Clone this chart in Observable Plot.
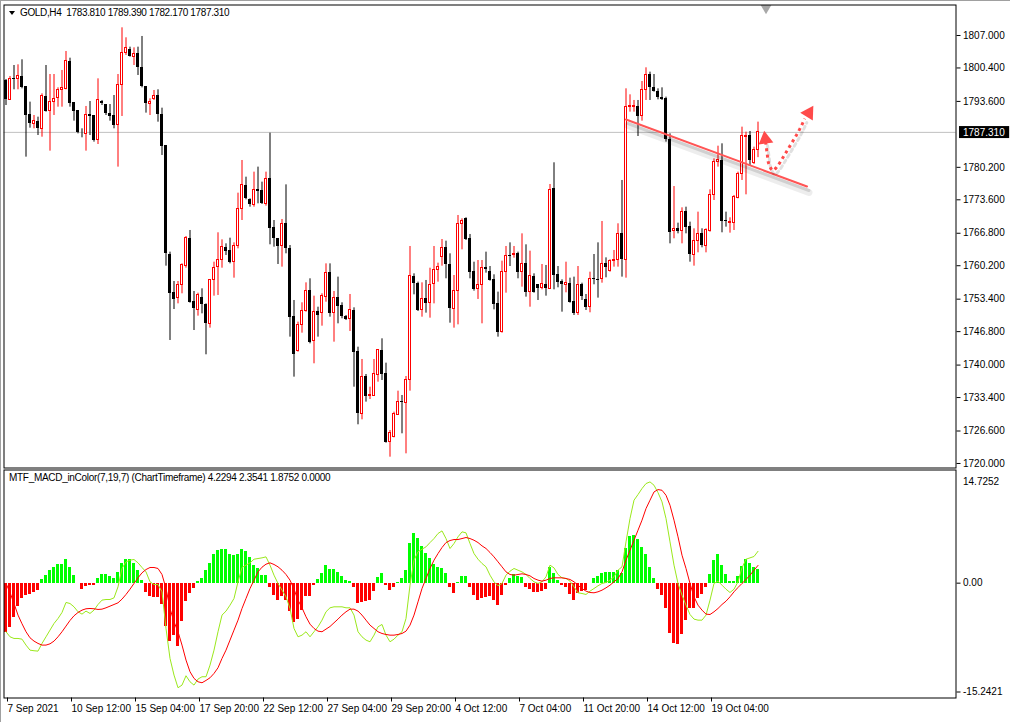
<!DOCTYPE html>
<html><head><meta charset="utf-8">
<script src="https://cdn.jsdelivr.net/npm/d3@7"></script>
<script src="https://cdn.jsdelivr.net/npm/@observablehq/plot@0.6"></script>
<style>
html,body{margin:0;padding:0;background:#fff;}
#wrap{position:relative;width:1010px;height:722px;overflow:hidden;background:#fff;font-family:"Liberation Sans",Arial,sans-serif;}
#wrap svg{position:absolute;left:0;overflow:visible;}
.lbl{position:absolute;font-size:10px;line-height:14px;color:#000;white-space:pre;}
.tri{position:absolute;left:9px;top:11px;width:0;height:0;border-left:3.5px solid transparent;border-right:3.5px solid transparent;border-top:4px solid #000;}
.edge{position:absolute;background:#a0a0a0;}
</style></head><body><div id="wrap"></div>
<script>
// ---------------- data ----------------
const symbolTitle = "GOLD,H4";
const open = [
1797.85,1793.92,1798.33,1798.12,1798.67,1796.63,1790.94,1789.04,1789.59,1788.03,
1794.60,1791.62,1793.58,1794.33,1795.82,1796.16,1801.72,1793.38,1791.75,1787.15,
1787.01,1790.87,1790.74,1785.79,1793.65,1792.97,1791.08,1790.74,1788.84,1796.97,
1803.48,1804.16,1802.73,1803.41,1800.43,1796.63,1793.11,1794.13,1794.80,1790.94,
1784.64,1762.48,1754.83,1753.61,1756.32,1760.11,1765.67,1752.93,1751.23,1753.81,
1752.32,1748.39,1757.33,1759.91,1761.40,1763.84,1763.30,1760.92,1764.18,1771.77,
1776.51,1773.66,1772.58,1775.69,1775.49,1772.78,1777.86,1767.90,1765.67,1764.31,
1768.72,1763.63,1749.88,1742.83,1748.25,1750.96,1755.16,1744.86,1750.89,1750.56,
1753.81,1758.76,1750.56,1753.67,1752.11,1749.88,1749.27,1751.10,1742.76,1730.09,
1737.68,1733.68,1733.68,1738.02,1742.97,1738.23,1724.33,1725.35,1729.89,1732.60,
1732.33,1737.01,1758.01,1756.52,1751.23,1753.47,1752.59,1756.52,1759.23,1761.94,
1763.84,1760.38,1751.44,1754.96,1768.72,1769.73,1765.67,1759.03,1755.50,1756.32,
1759.77,1759.03,1757.33,1752.45,1746.69,1758.89,1762.28,1762.28,1762.62,1758.89,
1760.58,1754.83,1758.01,1756.32,1755.71,1756.32,1755.50,1775.83,1758.35,1756.99,
1756.38,1756.52,1752.93,1750.56,1756.32,1753.27,1751.77,1757.54,1757.33,1757.54,
1760.58,1759.09,1761.19,1761.40,1766.68,1761.40,1792.43,1792.43,1792.64,1790.60,
1795.96,1799.07,1796.50,1795.62,1794.47,1794.26,1785.79,1767.23,1767.70,1767.23,
1771.22,1768.18,1762.48,1765.13,1766.68,1764.31,1767.23,1774.48,1781.25,1781.59,
1769.39,1768.85,1768.85,1774.00,1778.88,1786.33,1786.67,1781.05,1783.81];
const high = [
1798.06,1798.67,1800.90,1801.04,1802.06,1796.63,1793.45,1790.74,1790.40,1795.14,
1800.90,1799.07,1799.07,1796.36,1799.89,1803.75,1802.39,1793.38,1791.75,1788.03,
1792.57,1793.58,1790.74,1798.19,1793.79,1792.97,1792.97,1794.80,1799.07,1808.56,
1806.53,1804.63,1804.49,1804.63,1806.80,1796.63,1794.13,1795.82,1795.96,1792.23,
1784.64,1762.96,1756.99,1756.99,1760.58,1766.14,1767.36,1754.96,1754.62,1755.50,
1752.45,1757.33,1760.92,1766.89,1765.46,1764.65,1765.80,1764.85,1774.95,1781.59,
1778.20,1773.80,1779.22,1780.24,1777.19,1779.22,1787.15,1769.39,1765.67,1769.60,
1776.64,1764.31,1753.13,1748.73,1752.66,1756.72,1757.54,1754.01,1751.77,1754.49,
1760.58,1760.58,1754.96,1757.88,1752.66,1750.08,1754.35,1751.64,1743.64,1741.14,
1738.09,1735.51,1741.14,1742.97,1745.34,1740.39,1726.70,1730.43,1734.70,1733.82,
1737.68,1764.11,1758.55,1756.86,1756.72,1757.20,1759.70,1764.11,1760.72,1765.53,
1765.19,1762.62,1758.21,1770.41,1769.73,1769.94,1766.55,1760.92,1761.26,1761.26,
1762.96,1760.04,1758.35,1754.83,1761.13,1764.11,1764.85,1764.11,1762.96,1766.68,
1764.45,1763.16,1758.55,1756.38,1760.45,1760.25,1776.71,1781.12,1760.04,1757.33,
1760.92,1757.67,1757.88,1760.04,1756.65,1754.35,1758.89,1762.48,1764.85,1769.19,
1761.80,1761.40,1763.30,1768.72,1777.53,1796.16,1794.94,1793.79,1793.79,1797.65,
1800.43,1799.55,1799.07,1796.16,1796.36,1794.47,1787.01,1776.30,1768.85,1771.97,
1772.10,1769.06,1767.70,1771.09,1767.70,1767.70,1775.63,1781.93,1784.50,1784.98,
1771.09,1769.94,1774.48,1779.22,1788.37,1787.35,1787.49,1784.30,1789.39];
const low = [
1792.77,1793.79,1795.96,1795.96,1796.16,1782.27,1788.16,1788.03,1786.67,1786.33,
1791.42,1783.49,1790.74,1792.43,1792.43,1795.96,1792.43,1789.59,1787.01,1786.20,
1783.49,1786.67,1785.32,1784.84,1792.77,1790.74,1789.59,1788.03,1780.24,1790.54,
1802.94,1802.60,1800.90,1798.87,1796.36,1791.22,1790.74,1793.79,1789.38,1782.61,
1760.11,1745.00,1751.30,1752.45,1754.49,1759.70,1752.59,1747.03,1749.95,1750.42,
1742.09,1747.51,1754.01,1754.15,1759.70,1762.28,1760.58,1757.67,1763.63,1769.39,
1773.60,1772.10,1772.10,1772.78,1772.65,1772.31,1764.45,1763.97,1760.45,1759.91,
1762.62,1745.68,1737.55,1742.63,1746.49,1750.76,1744.32,1740.26,1745.68,1747.91,
1752.79,1749.74,1744.66,1748.39,1749.41,1749.06,1746.83,1735.51,1727.86,1728.87,
1732.47,1733.00,1733.61,1736.53,1736.87,1724.13,1721.28,1725.21,1729.75,1726.03,
1721.96,1734.70,1754.28,1750.89,1749.74,1750.56,1749.54,1752.45,1756.86,1760.11,
1757.54,1748.52,1747.51,1748.18,1763.43,1765.33,1757.54,1755.03,1753.34,1748.39,
1758.69,1757.06,1751.23,1745.68,1746.49,1754.62,1760.04,1761.74,1757.54,1755.84,
1753.81,1751.77,1754.62,1753.13,1755.30,1754.01,1755.37,1755.30,1755.71,1750.76,
1754.69,1752.59,1750.08,1750.08,1753.13,1751.10,1750.63,1756.32,1753.61,1756.65,
1757.74,1758.89,1759.91,1759.91,1757.88,1757.67,1791.42,1791.42,1786.47,1789.59,
1793.79,1793.79,1795.48,1793.92,1793.79,1785.32,1764.65,1765.67,1766.68,1764.65,
1766.68,1760.92,1760.11,1762.82,1763.84,1762.82,1767.02,1773.46,1780.24,1766.89,
1768.04,1766.82,1767.36,1773.80,1777.53,1774.61,1780.58,1780.78,1782.17];
const close = [
1793.92,1798.19,1798.06,1798.67,1796.50,1790.74,1789.04,1789.52,1788.03,1794.60,
1791.62,1793.58,1794.13,1795.82,1796.36,1801.72,1793.24,1791.62,1787.28,1787.01,
1790.87,1790.60,1785.66,1793.79,1793.11,1791.08,1790.54,1788.71,1796.97,1803.48,
1804.43,1802.73,1803.27,1800.43,1796.63,1793.11,1793.58,1794.80,1790.87,1784.50,
1762.62,1754.62,1753.27,1756.32,1760.25,1765.80,1752.79,1751.44,1754.15,1752.25,
1748.39,1757.33,1759.77,1761.40,1763.97,1763.16,1760.92,1764.18,1771.77,1776.51,
1773.93,1772.58,1775.63,1775.36,1772.78,1777.86,1767.83,1765.67,1764.18,1768.72,
1763.63,1749.74,1742.09,1748.25,1750.96,1755.16,1744.66,1750.89,1750.08,1754.01,
1758.76,1750.56,1753.67,1751.98,1749.95,1749.27,1751.10,1742.63,1730.09,1737.68,
1733.68,1733.95,1738.09,1742.97,1738.02,1724.33,1726.23,1729.96,1732.47,1732.33,
1736.87,1758.08,1756.65,1751.10,1753.47,1752.59,1756.38,1759.23,1760.04,1763.84,
1760.38,1751.44,1754.96,1768.72,1769.19,1765.53,1758.89,1755.37,1756.32,1759.77,
1759.43,1757.20,1752.32,1746.69,1758.89,1762.14,1762.08,1762.62,1758.89,1760.58,
1754.83,1758.01,1754.83,1755.64,1756.52,1755.50,1775.63,1758.21,1756.86,1756.38,
1756.72,1752.79,1750.56,1756.32,1754.01,1751.77,1757.54,1757.33,1757.20,1760.58,
1759.91,1761.26,1761.40,1766.68,1761.40,1792.43,1792.64,1792.64,1790.60,1795.96,
1799.07,1796.50,1795.62,1794.47,1793.99,1785.79,1767.02,1767.70,1767.23,1771.09,
1768.04,1762.42,1765.13,1766.68,1764.31,1767.36,1774.48,1781.25,1781.59,1769.26,
1769.26,1769.06,1774.14,1778.88,1786.47,1786.67,1781.59,1783.76,1787.31];

// MACD indicator (7,19,7): histogram, main line, signal line
const macdHist = [
-6.59,-5.88,-4.60,-3.05,-2.03,-1.68,-1.50,-1.24,-0.93,0.53,
1.06,1.72,2.08,2.43,2.52,3.14,2.08,1.06,-0.09,-0.80,
-0.49,-0.27,-0.35,0.62,1.15,1.15,0.93,0.62,1.41,2.61,
3.14,3.14,2.61,1.72,0.31,-1.24,-1.81,-1.95,-1.95,-2.83,
-5.70,-7.78,-6.90,-8.36,-5.04,-2.48,-1.37,-0.71,0.27,0.62,
1.72,2.61,3.80,4.38,4.47,4.47,3.80,3.63,3.80,4.47,
4.16,3.36,2.39,1.95,1.06,1.06,-0.57,-1.59,-2.34,-1.81,
-2.25,-3.80,-5.26,-4.77,-3.58,-1.81,-1.72,-0.35,0.49,1.28,
2.39,1.86,1.86,1.41,0.93,0.40,0.27,-0.62,-2.70,-2.61,
-2.39,-2.25,-1.06,0.75,1.28,-0.35,-0.93,-0.62,0.04,0.62,
1.72,5.26,6.59,5.92,4.91,3.93,3.27,2.52,2.03,1.95,
1.28,-0.62,-1.37,0.04,0.93,0.84,-0.62,-1.59,-2.25,-2.03,
-1.95,-1.81,-2.25,-2.92,-1.59,-0.35,0.62,1.15,0.84,0.75,
-0.57,-0.80,-1.24,-1.24,-1.06,-0.80,2.08,1.28,0.40,-0.27,
-0.62,-1.50,-2.25,-1.37,-1.06,-1.02,-0.04,0.62,0.93,1.28,
1.41,1.41,1.37,1.72,1.28,4.60,6.15,6.28,5.84,4.73,
3.80,2.08,0.62,-0.80,-1.59,-3.36,-6.68,-8.00,-8.13,-6.76,
-4.91,-3.36,-3.36,-2.03,-1.50,-0.57,1.15,3.05,3.80,2.39,
1.15,0.27,0.27,0.93,2.25,3.18,2.61,2.08,1.8752];
const macdMain = [
-6.45,-7.12,-7.34,-7.34,-7.43,-8.22,-8.89,-8.97,-9.02,-8.00,
-7.12,-6.23,-5.35,-4.69,-3.89,-2.56,-2.70,-3.14,-3.80,-4.11,
-3.71,-4.02,-3.58,-2.83,-2.25,-2.17,-2.17,-1.95,-0.49,1.95,
2.83,3.05,3.14,2.70,2.08,1.50,0.18,-0.18,-0.18,-1.15,
-6.01,-9.99,-12.20,-13.88,-13.53,-12.29,-13.09,-13.53,-12.73,-12.42,
-12.42,-10.88,-8.89,-6.45,-4.24,-3.71,-2.92,-2.03,0.18,2.08,
2.39,2.70,3.18,3.27,3.36,3.49,2.39,1.06,-0.04,-0.93,
-1.81,-3.36,-6.01,-7.12,-6.90,-6.45,-7.12,-6.45,-5.79,-4.91,
-3.80,-3.27,-3.14,-3.14,-3.14,-3.27,-3.27,-4.24,-6.45,-7.12,
-7.56,-7.78,-6.90,-5.79,-5.48,-6.90,-7.78,-7.43,-6.90,-6.45,
-4.69,-0.27,3.05,4.16,4.51,4.82,5.39,5.92,6.59,6.94,
5.92,4.60,5.26,6.15,6.81,6.68,5.26,3.93,3.18,2.61,
2.17,1.06,0.18,-0.35,-0.04,1.06,1.59,1.95,1.72,1.50,
1.15,0.62,0.18,-0.04,0.18,0.84,2.39,2.03,1.15,0.71,
0.62,0.27,-0.49,-1.28,-1.37,-1.50,-1.06,-0.71,-0.35,-0.04,
0.09,0.40,0.84,1.72,2.17,5.48,8.58,11.01,11.76,12.56,
13.22,13.44,13.00,12.02,10.79,8.58,5.48,2.39,-0.04,-1.59,
-2.92,-4.16,-4.77,-4.91,-4.91,-4.24,-2.25,-0.04,0.27,-0.27,
-0.80,-1.24,-0.80,0.18,2.03,3.18,3.36,3.54,4.2294];
const macdSignal = [
-0.04,-1.24,-2.70,-4.24,-5.39,-6.45,-7.25,-7.69,-8.00,-8.22,
-8.22,-8.05,-7.69,-7.12,-6.45,-5.70,-4.95,-4.33,-3.89,-3.58,
-3.40,-3.36,-3.40,-3.49,-3.45,-3.27,-3.05,-2.83,-2.61,-2.12,
-1.50,-0.80,-0.04,0.71,1.37,1.81,2.08,2.08,1.95,1.15,
-0.71,-3.36,-5.13,-6.45,-8.22,-10.21,-11.76,-12.64,-13.09,-13.22,
-12.91,-12.56,-11.98,-11.23,-9.99,-8.89,-7.56,-6.23,-4.91,-3.36,
-2.03,-0.71,0.40,1.50,2.12,2.52,2.70,2.48,2.17,1.72,
1.15,0.40,-0.80,-2.25,-3.27,-4.46,-5.44,-6.01,-6.37,-6.45,
-6.10,-5.75,-5.26,-4.77,-4.24,-3.80,-3.45,-3.45,-3.71,-4.24,
-4.91,-5.57,-6.01,-6.45,-6.68,-6.81,-6.90,-6.90,-6.81,-6.68,
-6.37,-5.57,-4.24,-2.48,-0.71,0.62,1.95,3.05,3.93,4.73,
5.39,5.66,5.79,5.79,5.92,6.06,5.92,5.70,5.39,4.95,
4.60,4.07,3.49,2.83,2.17,1.50,1.15,1.06,1.15,1.24,
1.15,0.97,0.62,0.40,0.27,0.40,0.62,0.71,0.71,0.71,
0.62,0.49,0.18,-0.27,-0.71,-1.06,-1.24,-1.28,-1.15,-0.93,
-0.62,-0.27,0.18,0.62,1.50,3.05,4.38,5.70,7.03,8.36,
9.90,11.01,12.11,12.42,12.33,11.67,10.34,8.36,6.15,3.71,
1.95,-0.04,-1.81,-2.92,-3.58,-4.11,-4.16,-3.80,-3.36,-2.83,
-2.39,-1.81,-1.15,-0.57,-0.04,0.49,1.06,1.72,2.3541];

const priceTicks = [1807.0,1800.4,1793.6,1780.2,1773.6,1766.8,1760.2,1753.4,1746.8,1740.0,1733.4,1726.6,1720.0];
const macdScaleMax = 14.7252, macdScaleMin = -15.2421;
const tickBars = [0,16,32,48,64,80,96,112,128,144,160,176];
const tickLabels = ["7 Sep 2021","10 Sep 12:00","15 Sep 04:00","17 Sep 20:00","22 Sep 12:00","27 Sep 04:00","29 Sep 20:00","4 Oct 12:00","7 Oct 04:00","11 Oct 20:00","14 Oct 12:00","19 Oct 04:00"];
const macdTitle = "MTF_MACD_inColor(7,19,7) (ChartTimeframe)";
const macdExtra = 0.0;
// annotations (bar index, price)
const trendLine = [{i:155, p:1789.93},{i:200.25, p:1776.31}];
const arrowPath = [
 {i:189.9,p:1785.4},{i:190.3,p:1782.95},{i:190.7,p:1780.92},{i:191.7,p:1779.56},{i:192.8,p:1780.37},
 {i:194.05,p:1781.94},{i:195.3,p:1783.62},{i:196.55,p:1785.31},{i:197.8,p:1787.02},{i:198.9,p:1788.71},{i:199.7,p:1790.1}];
const arrowHeads = [{i:189.85,p:1785.9,a:-8},{i:200.7,p:1791.25,a:32}];
const shiftBar = 190;

// ---------------- drawing ----------------
const N = close.length;
const last = close[N-1];
const fontFam = '"Liberation Sans", Arial, sans-serif';
const bars = d3.range(N).map(i => ({i, o: open[i], h: high[i], l: low[i], c: close[i]}));
const upBars = bars.filter(d => d.c >= d.o), dnBars = bars.filter(d => d.c < d.o);
const bodyBot = d => Math.min(d.o, d.c);
const bodyTop = d => Math.max(d.o, d.c, Math.min(d.o, d.c) + 0.15);
const xDom = [-0.5, 237.5];

const wrap = document.getElementById("wrap");

const main = Plot.plot({
  width: 1010, height: 470,
  marginLeft: 3.5, marginRight: 54.5, marginTop: 4.5, marginBottom: 2.5,
  x: {domain: xDom, axis: null},
  y: {domain: [1719.08, 1813.2], axis: null},
  style: {background: "transparent", fontFamily: fontFam, fontSize: "10px", color: "#000"},
  marks: [
    Plot.ruleY([last], {stroke: "#c0c0c0", strokeWidth: 1}),
    Plot.ruleX(dnBars, {x: "i", y1: "l", y2: "h", stroke: "#000"}),
    Plot.ruleX(upBars, {x: "i", y1: "l", y2: "h", stroke: "#ff0000"}),
    Plot.rect(dnBars, {x1: d => d.i - 0.375, x2: d => d.i + 0.375, y1: bodyBot, y2: bodyTop, fill: "#000", shapeRendering: "crispEdges"}),
    Plot.rect(upBars, {x1: d => d.i - 0.25, x2: d => d.i + 0.25, y1: bodyBot, y2: bodyTop, fill: "#fff", stroke: "#ff0000", strokeWidth: 1, shapeRendering: "crispEdges"}),
    // trend line with soft shadow
    Plot.line(trendLine, {x: "i", y: "p", stroke: "#000", strokeOpacity: 0.07, strokeWidth: 7, dx: 2, dy: 6}),
    Plot.line(trendLine, {x: "i", y: "p", stroke: "#000", strokeOpacity: 0.12, strokeWidth: 3, dx: 2, dy: 4}),
    Plot.line(trendLine, {x: "i", y: "p", stroke: "#ff5555", strokeWidth: 2}),
    // dotted arrow with shadow
    Plot.line(arrowPath, {x: "i", y: "p", curve: "catmull-rom", stroke: "#000", strokeOpacity: 0.12, strokeWidth: 3, strokeDasharray: "3,3.5", dx: 2, dy: 4}),
    Plot.line(arrowPath, {x: "i", y: "p", curve: "catmull-rom", stroke: "#ff4a4a", strokeWidth: 3, strokeDasharray: "3,3.5", strokeLinecap: "butt"}),
    Plot.dot(arrowHeads, {x: "i", y: "p", symbol: "triangle", r: 5.5, fill: "#ff4a4a", stroke: "none", rotate: "a"}),
    // chart shift marker
    Plot.dot([shiftBar], {x: d => d, frameAnchor: "top", dy: 3, symbol: "triangle", rotate: 180, r: 4, fill: "#a8a8a8", stroke: "none"}),
    Plot.axisY(priceTicks, {anchor: "right", label: null, tickSize: 4, tickPadding: 3, tickFormat: d => d.toFixed(3), fontSize: 10}),
    Plot.text([last], {y: d => d, frameAnchor: "right", dx: 7, textAnchor: "start", fill: "#fff", fontSize: 10, text: d => d.toFixed(3)}),
    Plot.frame({stroke: "#000"})
  ]
});
main.style.top = "0px";
wrap.appendChild(main);

// black box behind current price label
d3.select(main).selectAll("text").filter(function(){ return this.textContent === last.toFixed(3); })
  .each(function(){
    const bb = this.getBBox();
    const t = this.getAttribute("transform");
    const r = document.createElementNS("http://www.w3.org/2000/svg","rect");
    r.setAttribute("x", bb.x - 4); r.setAttribute("y", bb.y - 0.5);
    r.setAttribute("width", bb.width + 8); r.setAttribute("height", bb.height + 1);
    r.setAttribute("fill", "#000");
    if (t) r.setAttribute("transform", t);
    this.parentNode.insertBefore(r, this);
  });

const hd = d3.range(N).map(i => ({i, v: macdHist[i]}));
const ml = d3.range(N).map(i => ({i, v: macdMain[i]}));
const sl = d3.range(N).map(i => ({i, v: macdSignal[i]}));

const sub = Plot.plot({
  width: 1010, height: 256,
  marginLeft: 3.5, marginRight: 54.5, marginTop: 3.5, marginBottom: 24.5,
  x: {domain: xDom, label: null},
  y: {domain: [macdScaleMin, 15.02], axis: null, label: null},
  style: {background: "transparent", fontFamily: fontFam, fontSize: "10px", color: "#000"},
  marks: [
    Plot.rect(hd.filter(d => d.v >= 0), {x1: d => d.i - 0.375, x2: d => d.i + 0.375, y1: 0, y2: "v", fill: "#00ff00", shapeRendering: "crispEdges"}),
    Plot.rect(hd.filter(d => d.v < 0), {x1: d => d.i - 0.375, x2: d => d.i + 0.375, y1: 0, y2: "v", fill: "#ff0000", shapeRendering: "crispEdges"}),
    Plot.line(ml, {x: "i", y: "v", stroke: "#9be81c", strokeWidth: 1}),
    Plot.line(sl, {x: "i", y: "v", stroke: "#ff0000", strokeWidth: 1}),
    Plot.axisX(tickBars, {anchor: "bottom", label: null, tickSize: 4, tickPadding: 3, textAnchor: "start", dx: 1.5,
      tickFormat: d => tickLabels[tickBars.indexOf(d)], fontSize: 10}),
    Plot.axisY([0], {anchor: "right", label: null, tickSize: 4, tickPadding: 3, tickFormat: () => "0.00", fontSize: 10}),
    Plot.axisY([macdScaleMin], {anchor: "right", label: null, tickSize: 4, tickPadding: 3, dy: -6, tickFormat: d => d.toFixed(4), fontSize: 10}),
    Plot.text([macdScaleMax], {frameAnchor: "top-right", dx: 7, dy: 8, textAnchor: "start", text: d => d.toFixed(4), fontSize: 10}),
    Plot.frame({stroke: "#000"})
  ]
});
sub.style.top = "466px";
wrap.appendChild(sub);

// header labels
const tri = document.createElement("div"); tri.className = "tri"; wrap.appendChild(tri);
const h1 = document.createElement("div"); h1.className = "lbl";
h1.style.left = "20px"; h1.style.top = "6px"; h1.style.letterSpacing = "-0.35px";
h1.textContent = symbolTitle + "  " + [open[N-1], high[N-1], low[N-1], close[N-1]].map(v => v.toFixed(3)).join(" ");
wrap.appendChild(h1);
const h2 = document.createElement("div"); h2.className = "lbl";
h2.style.left = "9px"; h2.style.top = "471px"; h2.style.letterSpacing = "-0.3px";
h2.textContent = macdTitle + " " + [macdMain[N-1], macdSignal[N-1], macdHist[N-1], macdExtra].map(v => v.toFixed(4)).join(" ");
wrap.appendChild(h2);
// window edges
[["0px","0px","1010px","1px"],["0px","0px","1px","722px"]].forEach(([l,t,w,h]) => {
  const e = document.createElement("div"); e.className = "edge";
  e.style.left = l; e.style.top = t; e.style.width = w; e.style.height = h; wrap.appendChild(e);
});
</script></body></html>
